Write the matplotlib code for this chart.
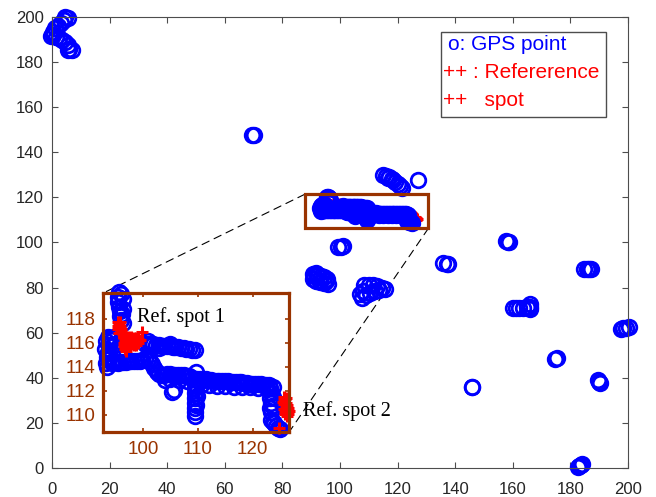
import numpy as np
import matplotlib
matplotlib.use('Agg')
import matplotlib.pyplot as plt
from matplotlib.patches import Rectangle, ConnectionPatch

'DATA READ OFF THE FIGURE'

# GPS points (x, y) far from the zoomed area
gps_far = [
    (4.5, 200), (5.5, 199.5), (4, 198.5), (3, 197.5), (2, 196), (1, 195), (0.3, 193.5),
    (-0.5, 191.5), (0.5, 192), (1.5, 191), (2.5, 190.5), (3.5, 190), (4.5, 189),
    (5.5, 187.5), (6, 186), (7, 185.5), (5.5, 185.5),
    (69.5, 147.5), (70.3, 147.8),
    (115, 130), (116, 129.5), (117, 129), (118, 128), (119, 127), (120, 126),
    (121, 125), (121.5, 124), (116.5, 128.5), (118.5, 127.5), (127, 127.7),
    (99.3, 97.8), (100.5, 98.2), (101.2, 98.4),
    (90.5, 86), (91.5, 86.5), (92.5, 85.5), (93.5, 85), (94.5, 84.5), (95.5, 84),
    (90.5, 84), (91.5, 83), (93, 82.5), (94.5, 82), (96, 81.5), (91, 85), (95, 83),
    (108.5, 81), (110, 81.3), (111.5, 81), (113, 80.5), (114.5, 80), (115.5, 79.5),
    (107, 77), (107.5, 75.5), (109, 76.5), (110.5, 77.5), (112, 78.5), (113.5, 79), (108, 78.5),
    (135.8, 91), (137, 90.6), (137.5, 90.3),
    (157.5, 100.8), (158.3, 100.2), (158.8, 100.0),
    (184.6, 88.2), (185.6, 88.2), (186.6, 88.1), (187.3, 88.1),
    (160, 70.9), (161, 70.9), (162, 70.8), (163.5, 71), (165, 71.3), (166, 72.5),
    (166, 70.5), (166, 71.5),
    (197.4, 61.8), (198.3, 62), (199.3, 62.2), (200.2, 62.5),
    (174.6, 48.4), (175.4, 48.8),
    (189.6, 39), (189.9, 38.3), (190.3, 37.6),
    (145.7, 36.1), (145.9, 35.8),
    (182.6, 0.3), (183.1, 0.8), (183.8, 1.5), (184.2, 1.8),
]

# GPS points inside the zoomed box
gps_box = [
    # top vertical piece
    (95.6, 120.2), (95.4, 119.8), (95.5, 119.4), (95.6, 119.0), (95.8, 118.6), (95.9, 118.2),
    (96.0, 117.9), (96.3, 119.6), (96.0, 120.0), (96.4, 118.8), (96.2, 118.4), (96.3, 117.6),
    # left blob
    (93.6, 116.5), (94.0, 116.4), (94.4, 116.2), (93.3, 116.1), (93.8, 115.8), (94.5, 115.7),
    (93.2, 115.5), (93.7, 115.2), (94.3, 115.1), (93.4, 114.8), (93.9, 114.6), (93.3, 114.3),
    (93.5, 114.0), (94.6, 114.5), (95.0, 115.9), (94.8, 116.5),
    # upper band
    (100.4, 115.9), (100.9, 115.9), (101.4, 115.9), (101.9, 115.85), (102.4, 115.8),
    (102.9, 115.8), (103.4, 115.75), (103.9, 115.75), (104.4, 115.7), (104.9, 115.7),
    (105.4, 115.65), (105.9, 115.6), (106.4, 115.6), (106.9, 115.55), (107.4, 115.55),
    (107.9, 115.5), (108.4, 115.45), (108.9, 115.4), (109.4, 115.35),
    (101.0, 116.1), (103.0, 115.55), (105.0, 115.9),
    # lower band
    (94.4, 114.3), (94.9, 114.35), (95.4, 114.3), (95.9, 114.35), (96.4, 114.4), (96.9, 114.4),
    (97.4, 114.45), (97.9, 114.45), (98.4, 114.5), (98.9, 114.5), (99.4, 114.5), (99.9, 114.55),
    (100.4, 114.6), (100.9, 114.6), (101.3, 114.5), (101.7, 114.2), (102.1, 113.9), (102.5, 113.6),
    (102.9, 113.4), (103.4, 113.3), (103.9, 113.35), (104.4, 113.4), (104.9, 113.4),
    (105.4, 113.35), (105.9, 113.3), (106.4, 113.3), (106.9, 113.3), (107.4, 113.3),
    (107.9, 113.25), (108.4, 113.2), (108.9, 113.1), (109.4, 113.0), (109.9, 112.95),
    (110.4, 112.95), (110.9, 112.9), (111.4, 112.95), (111.9, 112.9), (112.4, 112.9),
    (112.9, 112.85), (113.4, 112.85), (113.9, 112.85), (114.4, 112.8), (114.9, 112.8),
    (115.4, 112.8), (115.9, 112.75), (116.4, 112.75), (116.9, 112.7), (117.4, 112.7),
    (117.9, 112.7), (118.4, 112.65), (118.9, 112.65), (119.4, 112.6), (119.9, 112.6),
    (120.4, 112.6), (120.9, 112.55), (121.4, 112.55), (121.9, 112.5), (122.4, 112.5),
    (122.9, 112.45),
    (104.0, 112.9), (105.0, 113.0), (106.5, 112.9), (108.0, 112.8), (110.5, 112.5),
    (112.0, 112.5), (113.5, 112.4), (115.0, 112.4), (116.5, 112.35), (118.0, 112.3),
    (119.5, 112.3), (121.0, 112.2), (122.5, 112.2),
    # dip and the drop near x=110
    (105.3, 111.9), (105.6, 112.1),
    (109.6, 113.6), (109.4, 112.6), (109.5, 112.2), (109.4, 111.8), (109.5, 111.4),
    (109.4, 111.0), (109.5, 110.6), (109.4, 110.2), (109.5, 109.9), (109.7, 112.4),
    (109.8, 111.6), (109.7, 110.8),
    # right drop and end
    (123.2, 112.2), (123.3, 111.8), (123.2, 111.4), (123.3, 111.0), (123.2, 110.6),
    (123.4, 110.2), (123.6, 112.3), (123.6, 111.5), (123.5, 110.7),
    (123.4, 109.6), (123.6, 109.4), (123.9, 109.3), (124.2, 109.1), (124.6, 108.9), (124.9, 108.8),
]

# reference spots (red +)
ref_pts = [
    # spot 1
    (95.4, 117.7), (95.9, 117.7), (95.4, 117.4), (95.9, 117.4), (95.5, 117.1), (96.0, 117.1),
    (95.7, 116.8), (96.3, 116.8), (95.65, 117.55), (95.65, 117.25), (96.1, 117.0),
    (96.8, 116.5), (97.3, 116.5), (97.8, 116.45), (98.3, 116.4), (98.8, 116.35), (99.2, 116.3),
    (96.8, 116.2), (97.3, 116.2), (97.8, 116.15), (98.3, 116.1), (98.8, 116.05), (99.2, 116.0),
    (96.8, 115.9), (97.3, 115.9), (97.8, 115.85), (98.3, 115.8), (98.8, 115.8),
    (97.05, 116.35), (97.55, 116.3), (98.05, 116.25), (98.55, 116.2), (99.0, 116.15),
    (97.05, 116.05), (97.55, 116.0), (98.05, 115.95), (98.55, 115.9),
    (96.5, 116.6), (96.5, 116.0), (96.6, 115.7), (99.5, 116.2),
    (96.7, 115.5), (97.0, 115.3),
    (99.8, 116.9),
    # spot 2
    (125.6, 111.5), (126.0, 111.4), (125.7, 111.2), (126.1, 111.0), (125.6, 110.9),
    (126.0, 110.7), (126.4, 110.6), (125.7, 110.5), (126.1, 110.3), (126.4, 110.1),
    (125.8, 110.1), (126.2, 109.9), (124.8, 108.9),
    (125.8, 111.3), (125.9, 110.9), (126.2, 110.5), (125.9, 110.3), (126.3, 110.8),
    (125.5, 111.1), (126.6, 110.3),
]

main_ticks = np.arange(0, 201, 20)
inset_xticks = [100, 110, 120]
inset_yticks = [110, 112, 114, 116, 118]

zoom_x = [87.8, 130.7]   # box drawn on the main plot
zoom_y = [106.3, 121.4]
inset_xlim = [92.7, 126.65]
inset_ylim = [108.6, 120.1]

legend_lines = ['o: GPS point', '++ : Refererence', '++   spot']
legend_colors = ['blue', 'red', 'red']

brown = '#993300'

far_x, far_y = np.array(gps_far).T
box_x, box_y = np.array(gps_box).T
ref_x, ref_y = np.array(ref_pts).T

'PLOTTING'

plt.rcParams['font.family'] = 'Liberation Sans'

fig = plt.figure(figsize=(6.56, 4.97), dpi=100)
ax = fig.add_axes([0.0793, 0.0584, 0.878, 0.9074])

circ = dict(ls='none', marker='o', mfc='none', mec='blue', ms=10.5, mew=2, clip_on=False)
plus = dict(ls='none', marker='+', color='red', ms=9, mew=2.2, clip_on=False)

# main plot: red first, the gps circles sit on top of it
ax.plot(ref_x, ref_y, **plus)
ax.plot(far_x, far_y, **circ)
ax.plot(box_x, box_y, **circ)

ax.set_xlim(0, 200)
ax.set_ylim(0, 200)
ax.set_xticks(main_ticks)
ax.set_yticks(main_ticks)
ax.tick_params(direction='in', top=True, right=True, length=4, width=0.8,
               color='0.3', labelcolor='#262626', labelsize=12)
ax.tick_params(axis='x', pad=10)
ax.tick_params(axis='y', pad=6)
for s in ax.spines.values():
    s.set_color('0.3')
    s.set_linewidth(0.8)

# zoom box on the main plot
ax.add_patch(Rectangle((zoom_x[0], zoom_y[0]), zoom_x[1] - zoom_x[0], zoom_y[1] - zoom_y[0],
                       fill=False, ec=brown, lw=2.3, zorder=5))

# legend-like text box
ax.add_patch(Rectangle((0.675, 0.778), 0.287, 0.189, transform=ax.transAxes,
                       fill=False, ec='0.3', lw=1, zorder=6))
for i, (t, c) in enumerate(zip(legend_lines, legend_colors)):
    xl = 0.688 if i == 0 else 0.679
    ax.text(xl, 0.938 - i * 0.062, t, color=c, fontsize=15, va='center', ha='left',
            transform=ax.transAxes, zorder=6)

'INSET'
ins = fig.add_axes([0.1566, 0.1314, 0.2845, 0.2785])
# inset: the reference spots on top
ins.plot(box_x, box_y, **circ)
ins.plot(ref_x, ref_y, **plus)
ins.set_xlim(inset_xlim)
ins.set_ylim(inset_ylim)
ins.set_xticks(inset_xticks)
ins.set_yticks(inset_yticks)
ins.tick_params(direction='in', top=True, right=True, length=3, width=1.2,
                color=brown, labelcolor=brown, labelsize=13.5)
ins.tick_params(axis='x', pad=7)
ins.tick_params(axis='y', pad=5)
for s in ins.spines.values():
    s.set_color(brown)
    s.set_linewidth(2.3)

ins.text(0.184, 0.795, 'Ref. spot 1', family='Liberation Serif', fontsize=14.5,
         va='baseline', transform=ins.transAxes, clip_on=False)
ins.text(1.075, 0.113, 'Ref. spot 2', family='Liberation Serif', fontsize=14.5,
         va='baseline', transform=ins.transAxes, clip_on=False)

# dashed connectors box -> inset
for xa, ya, xb, yb in [(zoom_x[0], zoom_y[1], 0, 1), (zoom_x[1], zoom_y[0], 1, 0)]:
    con = ConnectionPatch(xyA=(xa, ya), coordsA=ax.transData,
                          xyB=(xb, yb), coordsB=ins.transAxes,
                          color='black', lw=0.8, linestyle=(0, (7, 5)))
    con.set_clip_on(False)
    ax.add_artist(con)

plt.savefig('out.png', dpi=100)
